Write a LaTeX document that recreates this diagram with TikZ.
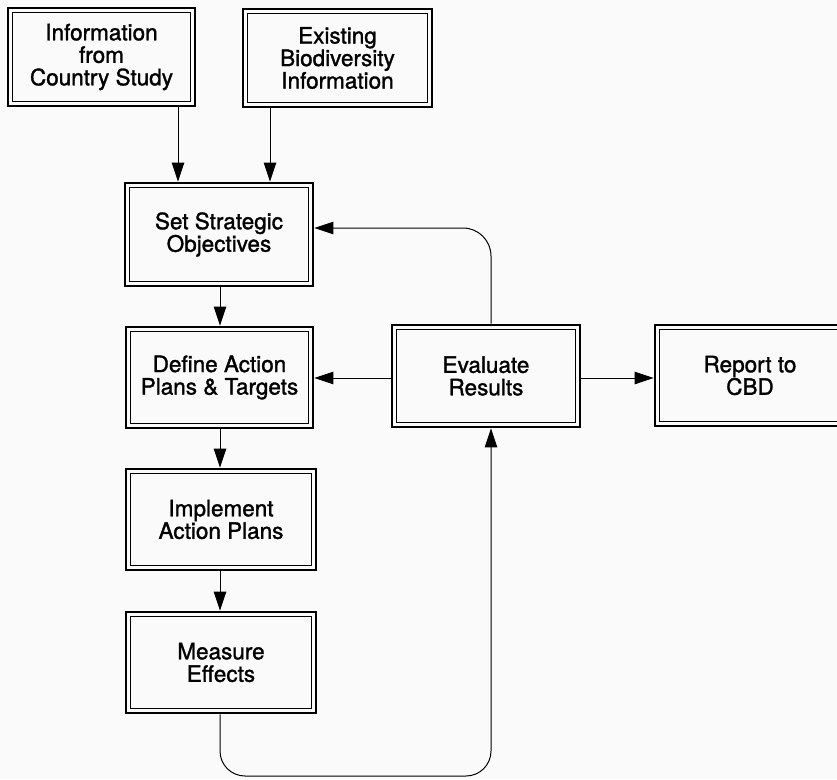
\documentclass[tikz,border=0pt]{standalone}
\usepackage{fontspec}
\setmainfont[FakeBold=1.4]{TeX Gyre Heros}
\usetikzlibrary{arrows.meta}
\tikzset{
  box/.style={draw, line width=2.8pt, minimum width=187pt, minimum height=100pt,
    align=center, inner sep=0pt, font=\fontsize{22.5}{22.5}\selectfont},
  innerline/.style={line width=1pt},
  conn/.style={line width=1pt, -{Triangle[length=19pt,width=12.5pt]}},
}
\newcommand\innerframe[1]{%
  \draw[innerline] ([shift={(5.5pt,-5.5pt)}]#1.north west) rectangle ([shift={(-5.5pt,5.5pt)}]#1.south east);}
\begin{document}
\begin{tikzpicture}[x=1pt,y=-1pt]
  \useasboundingbox (0,0) rectangle (837,779);
  \fill[gray!4] (0,0) rectangle (837,779);
  \clip (0,0) rectangle (837,779);

  \node[box, minimum width=187pt, minimum height=98pt] (b1) at (101.5,57) {Information\\from\\Country Study};
  \node[box, minimum width=189pt, minimum height=98pt] (b2) at (337.5,58) {Existing\\Biodiversity\\Information};
  \node[box, minimum width=188pt, minimum height=103pt] (b3) at (219,234.5) {Set Strategic\\Objectives};
  \node[box, minimum width=187pt, minimum height=101pt] (b4) at (219.5,377.5) {Define Action\\Plans \& Targets};
  \node[box, minimum width=190pt, minimum height=101pt] (b5) at (221,519.5) {Implement\\Action Plans};
  \node[box, minimum width=190pt, minimum height=101pt] (b6) at (221,662.5) {Measure\\Effects};
  \node[box, minimum width=188pt, minimum height=102pt] (ev) at (486,376) {Evaluate\\Results};
  \node[box, minimum width=190pt, minimum height=101pt] (rep) at (750,375.5) {Report to\\CBD};

  \foreach \n in {b1,b2,b3,b4,b5,b6,ev,rep} {\innerframe{\n}}

  \coordinate (xa) at (178,0);
  \coordinate (xb) at (270,0);
  \coordinate (xc) at (220,0);
  \coordinate (xd) at (491,0);
  \coordinate (ya) at (0,228);
  \coordinate (yb) at (0,378);
  \coordinate (yc) at (0,776);

  \draw[conn] (b1.south -| xa) -- (b3.north -| xa);
  \draw[conn] (b2.south -| xb) -- (b3.north -| xb);
  \draw[conn] (b3.south -| xc) -- (b4.north -| xc);
  \draw[conn] (b4.south -| xc) -- (b5.north -| xc);
  \draw[conn] (b5.south -| xc) -- (b6.north -| xc);
  \draw[conn, rounded corners=28pt] (ev.north -| xd) -- (xd |- ya) -- (b3.east |- ya);
  \draw[conn] (ev.west |- yb) -- (b4.east |- yb);
  \draw[conn] (ev.east |- yb) -- (rep.west |- yb);
  \draw[conn, rounded corners=25pt] (b6.south -| xc) -- (xc |- yc) -- (xd |- yc) -- (ev.south -| xd);
\end{tikzpicture}
\end{document}
